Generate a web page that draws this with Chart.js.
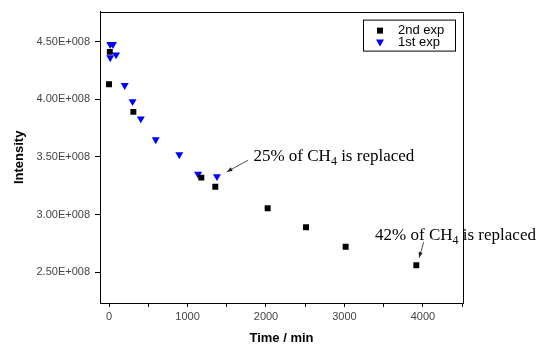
<!DOCTYPE html>
<html>
<head>
<meta charset="utf-8">
<script src="https://cdn.jsdelivr.net/npm/chart.js@4/dist/chart.umd.min.js"></script>
<style>
  html, body { margin: 0; padding: 0; background: #fff; }
</style>
</head>
<body>
<canvas id="scatterChart" width="538" height="346"></canvas>
<script>
// time (min) / intensity
const exp2Time = [0, 10, 310, 1176, 1354, 2021, 2510, 3015, 3915];
const exp2Intensity = [4.13e8, 4.41e8, 3.89e8, 3.32e8, 3.24e8, 3.055e8, 2.89e8, 2.72e8, 2.56e8];
const exp1Time = [15, 50, 15, 90, 200, 300, 405, 595, 895, 1135, 1375];
const exp1Intensity = [4.475e8, 4.475e8, 4.36e8, 4.385e8, 4.12e8, 3.98e8, 3.83e8, 3.65e8, 3.52e8, 3.35e8, 3.33e8];
const seriesNames = ["2nd exp", "1st exp"];
const xTicks = [0, 500, 1000, 1500, 2000, 2500, 3000, 3500, 4000, 4500];
const yTicks = [2.5e8, 3.0e8, 3.5e8, 4.0e8, 4.5e8];

// notes: text anchor and arrow (in data units)
const notes = [
  { text: "25% of CH", sub: "4", tail: " is replaced", x: 1840, y: 3.465e8, from: [1770, 3.47e8], to: [1500, 3.37e8] },
  { text: "42% of CH", sub: "4", tail: " is replaced", x: 3390, y: 2.78e8, from: [4010, 2.76e8], to: [3950, 2.625e8] },
];

const sansFont = "'Liberation Sans', Arial, sans-serif";
const serifFont = "'Liberation Serif', 'Times New Roman', serif";

function sci(v) {
  const parts = v.toExponential(2).split("e");
  const exp = parts[1];
  return parts[0] + "E" + exp[0] + exp.slice(1).padStart(3, "0");
}

function drawMarker(ctx, style, x, y) {
  ctx.beginPath();
  if (style === "rect") {
    ctx.fillStyle = "#000";
    ctx.rect(x - 3, y - 3, 6, 6);
  } else {
    ctx.fillStyle = "#0000ff";
    ctx.moveTo(x - 4, y - 3);
    ctx.lineTo(x + 4, y - 3);
    ctx.lineTo(x, y + 4);
    ctx.closePath();
  }
  ctx.fill();
}

const extras = {
  id: "extras",
  afterDraw(chart) {
    const ctx = chart.ctx;
    const a = chart.chartArea;
    const xs = chart.scales.x;
    const ys = chart.scales.y;
    ctx.save();
    // frame
    ctx.strokeStyle = "#000";
    ctx.lineWidth = 1;
    ctx.strokeRect(Math.round(a.left) + 0.5, Math.round(a.top) + 0.5, Math.round(a.right - a.left), Math.round(a.bottom - a.top));

    // legend
    const lx = a.right - 100, ly = a.top + 8;
    ctx.fillStyle = "#fff";
    ctx.fillRect(lx, ly, 92, 31);
    ctx.strokeRect(lx + 0.5, ly + 0.5, 92, 31);
    ctx.font = "13px " + sansFont;
    ctx.textBaseline = "middle";
    ctx.textAlign = "left";
    const styles = ["rect", "tri"];
    seriesNames.forEach((name, i) => {
      const cy = ly + 11 + i * 12;
      drawMarker(ctx, styles[i], lx + 17, cy);
      ctx.fillStyle = "#000";
      ctx.fillText(name, lx + 35, cy);
    });

    // annotations
    ctx.textBaseline = "alphabetic";
    notes.forEach(n => {
      let px = xs.getPixelForValue(n.x);
      const py = ys.getPixelForValue(n.y);
      ctx.fillStyle = "#000";
      ctx.font = "17px " + serifFont;
      ctx.fillText(n.text, px, py);
      px += ctx.measureText(n.text).width;
      ctx.font = "12px " + serifFont;
      ctx.fillText(n.sub, px, py + 4);
      px += ctx.measureText(n.sub).width;
      ctx.font = "17px " + serifFont;
      ctx.fillText(n.tail, px, py);

      const x1 = xs.getPixelForValue(n.from[0]), y1 = ys.getPixelForValue(n.from[1]);
      const x2 = xs.getPixelForValue(n.to[0]), y2 = ys.getPixelForValue(n.to[1]);
      ctx.strokeStyle = "#222";
      ctx.lineWidth = 0.8;
      ctx.beginPath();
      ctx.moveTo(x1, y1);
      ctx.lineTo(x2, y2);
      ctx.stroke();
      const ang = Math.atan2(y2 - y1, x2 - x1);
      ctx.fillStyle = "#222";
      ctx.beginPath();
      ctx.moveTo(x2, y2);
      ctx.lineTo(x2 - 6 * Math.cos(ang - 0.35), y2 - 6 * Math.sin(ang - 0.35));
      ctx.lineTo(x2 - 6 * Math.cos(ang + 0.35), y2 - 6 * Math.sin(ang + 0.35));
      ctx.closePath();
      ctx.fill();
    });
    ctx.restore();
  },
};

const ctx = document.getElementById("scatterChart");
new Chart(ctx, {
  type: "scatter",
  data: {
    datasets: [
      {
        label: seriesNames[0],
        data: exp2Time.map((t, i) => ({ x: t, y: exp2Intensity[i] })),
        pointStyle: "rect",
        pointRadius: 4.2,
        backgroundColor: "#000",
        borderColor: "#000",
        borderWidth: 0,
      },
      {
        label: seriesNames[1],
        data: exp1Time.map((t, i) => ({ x: t, y: exp1Intensity[i] })),
        pointStyle: "triangle",
        rotation: 180,
        pointRadius: 4.6,
        backgroundColor: "#0000ff",
        borderColor: "#0000ff",
        borderWidth: 0,
      },
    ],
  },
  options: {
    responsive: false,
    animation: false,
    layout: {
      padding: { left: 0, right: 75, top: 10, bottom: 0 },
    },
    plugins: {
      legend: { display: false },
      tooltip: { enabled: false },
    },
    scales: {
      x: {
        type: "linear",
        min: -115,
        max: 4510,
        afterBuildTicks: s => { s.ticks = xTicks.map(v => ({ value: v })); },
        afterFit: s => { s.height = 43; },
        grid: { drawOnChartArea: false, drawTicks: true, tickLength: 4, color: "#000" },
        border: { color: "#000", width: 1 },
        ticks: {
          color: "#444",
          font: { family: sansFont, size: 11 },
          padding: 3,
          maxRotation: 0,
          autoSkip: false,
          callback: v => (v % 1000 === 0 ? String(v) : ""),
        },
        title: {
          display: true,
          text: "Time / min",
          color: "#000",
          font: { family: sansFont, size: 13, weight: "bold" },
          padding: { top: 5, bottom: 0 },
        },
      },
      y: {
        type: "linear",
        min: 2.233e8,
        max: 4.759e8,
        afterBuildTicks: s => { s.ticks = yTicks.map(v => ({ value: v })); },
        afterFit: s => { s.width = 100; },
        grid: { drawOnChartArea: false, drawTicks: true, tickLength: 5, color: "#000" },
        border: { color: "#000", width: 1 },
        ticks: {
          color: "#444",
          font: { family: sansFont, size: 11 },
          padding: 5,
          callback: v => sci(v),
        },
        title: {
          display: true,
          text: "Intensity",
          color: "#000",
          font: { family: sansFont, size: 13, weight: "bold" },
          padding: { top: 12, bottom: 0 },
        },
      },
    },
  },
  plugins: [extras],
});
</script>
</body>
</html>
